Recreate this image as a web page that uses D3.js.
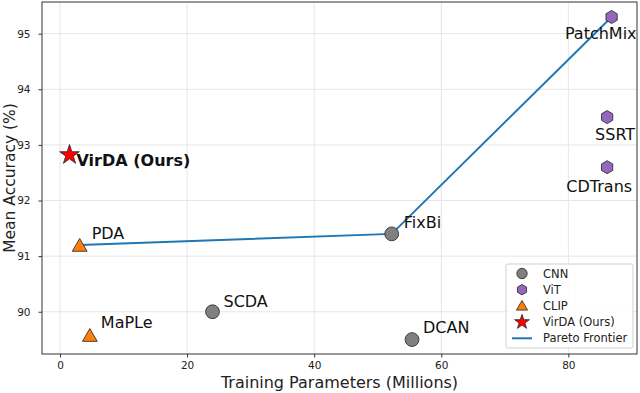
<!DOCTYPE html>
<html>
<head>
<meta charset="utf-8">
<script src="https://cdn.jsdelivr.net/npm/d3@7"></script>
<style>
  body { margin: 0; background: #fff; }
  text { font-family: "DejaVu Sans", sans-serif; }
</style>
</head>
<body>
<svg id="chart" width="640" height="393"></svg>
<script>
// data
var names = ['VirDA (Ours)', 'PDA', 'MaPLe', 'SCDA', 'FixBi', 'DCAN', 'PatchMix', 'SSRT', 'CDTrans'];
var groups = ['VirDA', 'CLIP', 'CLIP', 'CNN', 'CNN', 'CNN', 'ViT', 'ViT', 'ViT'];
var params = [1.5, 3.1, 4.7, 24.0, 52.2, 55.4, 86.8, 86.1, 86.1];
var accuracy = [92.82, 91.2, 89.58, 90.0, 91.4, 89.5, 95.3, 93.5, 92.6];
var frontier = ['PDA', 'FixBi', 'PatchMix'];
var xTicks = [0, 20, 40, 60, 80];
var yTicks = [90, 91, 92, 93, 94, 95];
var legendItems = ['CNN', 'ViT', 'CLIP', 'VirDA', 'Pareto'];
var legendLabels = ['CNN', 'ViT', 'CLIP', 'VirDA (Ours)', 'Pareto Frontier'];

var colors = { CNN: '#808080', ViT: '#9467bd', CLIP: '#ff7f0e', VirDA: '#ff0000', Pareto: '#1f77b4' };

var svg = d3.select('#chart');
var margin = { left: 42, right: 3, top: 2, bottom: 39 };
var width = 640, height = 393;

var x = d3.scaleLinear().domain([-2.83, 90.8]).range([margin.left, width - margin.right]);
var y = d3.scaleLinear().domain([89.24, 95.57]).range([height - margin.bottom, margin.top]);

// grid
var grid = svg.append('g').attr('id', 'grid');
xTicks.forEach(function (t) {
    grid.append('line')
        .attr('x1', x(t)).attr('x2', x(t))
        .attr('y1', y.range()[0]).attr('y2', y.range()[1])
        .attr('stroke', '#e6e6e6').attr('stroke-width', 1);
});
yTicks.forEach(function (t) {
    grid.append('line')
        .attr('x1', x.range()[0]).attr('x2', x.range()[1])
        .attr('y1', y(t)).attr('y2', y(t))
        .attr('stroke', '#e6e6e6').attr('stroke-width', 1);
});

// axes
var xAxis = svg.append('g')
    .attr('transform', 'translate(0,' + (height - margin.bottom) + ')')
    .call(d3.axisBottom(x).tickValues(xTicks).tickFormat(d3.format('d')).tickSize(3.5).tickPadding(4.5));
var yAxis = svg.append('g')
    .attr('transform', 'translate(' + margin.left + ',0)')
    .call(d3.axisLeft(y).tickValues(yTicks).tickFormat(d3.format('d')).tickSize(3.5).tickPadding(8));
[xAxis, yAxis].forEach(function (a) {
    a.select('.domain').remove();
    a.selectAll('text').attr('font-size', 10.5).attr('fill', '#222')
        .style('font-family', '"DejaVu Sans", sans-serif');
    a.selectAll('line').attr('stroke', '#333');
});

// frame
svg.append('rect')
    .attr('x', margin.left).attr('y', margin.top)
    .attr('width', width - margin.left - margin.right)
    .attr('height', height - margin.top - margin.bottom)
    .attr('fill', 'none').attr('stroke', '#333').attr('stroke-width', 1);

// axis titles
svg.append('text')
    .attr('x', (margin.left + width - margin.right) / 2).attr('y', 388)
    .attr('text-anchor', 'middle').attr('font-size', 16).attr('fill', '#222')
    .text('Training Parameters (Millions)');
svg.append('text')
    .attr('transform', 'translate(14.5,178) rotate(-90)')
    .attr('text-anchor', 'middle').attr('font-size', 15.5).attr('fill', '#222')
    .text('Mean Accuracy (%)');

// pareto frontier
var frontierPts = frontier.map(function (n) {
    var i = names.indexOf(n);
    return [params[i], accuracy[i]];
});
svg.append('path')
    .attr('d', d3.line().x(function (d) { return x(d[0]); }).y(function (d) { return y(d[1]); })(frontierPts))
    .attr('fill', 'none').attr('stroke', colors.Pareto).attr('stroke-width', 2);

// markers
function hexagon(r) {
    var pts = [];
    for (var k = 0; k < 6; k++) {
        var a = Math.PI / 3 * k;
        pts.push([r * Math.sin(a), -r * Math.cos(a)]);
    }
    return 'M' + pts.join('L') + 'Z';
}
function markerPath(g, scale) {
    scale = scale || 1;
    if (g === 'ViT') return hexagon(6.5 * scale);
    var s = { CNN: d3.symbolCircle, CLIP: d3.symbolTriangle, VirDA: d3.symbolStar }[g];
    var sz = { CNN: 150, CLIP: 95, VirDA: 120 }[g];
    return d3.symbol().type(s).size(sz * scale * scale)();
}

var pts = svg.append('g').attr('id', 'points');
names.forEach(function (n, i) {
    var g = groups[i];
    var dy = g === 'CLIP' ? 2 : 0;
    pts.append('path')
        .attr('d', markerPath(g))
        .attr('transform', 'translate(' + x(params[i]) + ',' + (y(accuracy[i]) + dy) + ')')
        .attr('fill', colors[g]).attr('stroke', '#222').attr('stroke-width', 0.8);
});

// point labels (pixel offsets from each point)
var labelOffsets = {
    'VirDA (Ours)': [7, 11, 'start'],
    'PDA': [12, -6, 'start'],
    'MaPLe': [11, -7, 'start'],
    'SCDA': [11, -5, 'start'],
    'FixBi': [12, -6, 'start'],
    'DCAN': [11, -6.5, 'start'],
    'PatchMix': [25, 22, 'end'],
    'SSRT': [28, 22.5, 'end'],
    'CDTrans': [25, 24.5, 'end']
};
names.forEach(function (n, i) {
    var o = labelOffsets[n];
    svg.append('text')
        .attr('x', x(params[i]) + o[0])
        .attr('y', y(accuracy[i]) + o[1])
        .attr('text-anchor', o[2])
        .attr('font-size', 16)
        .attr('font-weight', n === 'VirDA (Ours)' ? 'bold' : 'normal')
        .attr('fill', '#111')
        .text(n);
});

// legend
var legend = svg.append('g').attr('transform', 'translate(506,264)');
legend.append('rect')
    .attr('width', 127).attr('height', 84).attr('rx', 2)
    .attr('fill', 'rgba(255,255,255,0.85)').attr('stroke', '#d0d0d0');
legendItems.forEach(function (g, i) {
    var ly = 9.5 + i * 16.2;
    if (g === 'Pareto') {
        legend.append('line')
            .attr('x1', 6).attr('x2', 26).attr('y1', ly).attr('y2', ly)
            .attr('stroke', colors.Pareto).attr('stroke-width', 2);
    } else {
        legend.append('path')
            .attr('d', markerPath(g, g === 'ViT' ? 0.8 : 0.75))
            .attr('transform', 'translate(16,' + (ly + (g === 'CLIP' ? 1 : 0)) + ')')
            .attr('fill', colors[g]).attr('stroke', '#222').attr('stroke-width', 0.8);
    }
    legend.append('text')
        .attr('x', 37).attr('y', ly + 4)
        .attr('font-size', 11.5).attr('fill', '#222')
        .text(legendLabels[i]);
});
</script>
</body>
</html>
